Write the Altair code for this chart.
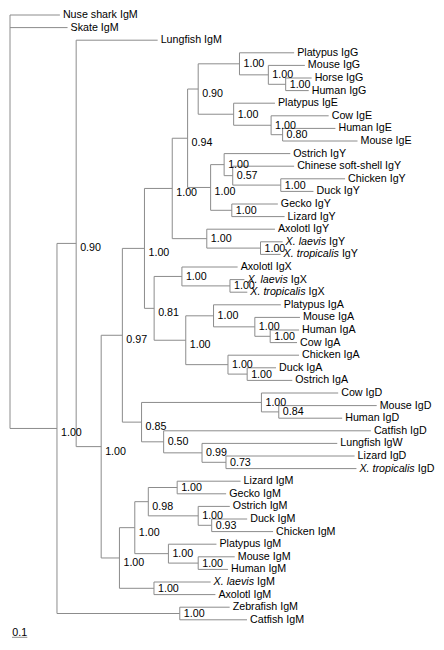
import altair as alt
import pandas as pd

# ---------------- data (read from the reference tree) ----------------
# nodes in pre-order; branch lengths in substitutions/site; support = posterior
node_names = [
    "root", "Nuse shark IgM", "Skate IgM", "n_B", "n_A", "Lungfish IgM", "n_C", "n_D", "n_E", "n_F",
    "n_094", "n_090", "n_G1", "Platypus IgG", "n_G2", "Mouse IgG", "n_G3", "Horse IgG", "Human IgG",
    "n_E1", "Platypus IgE", "n_E2", "Cow IgE", "n_E3", "Human IgE", "Mouse IgE",
    "n_Y", "n_Y1", "Ostrich IgY", "n_Y2", "Chinese soft-shell IgY", "n_Y3", "Chicken IgY", "Duck IgY",
    "n_YL", "Gecko IgY", "Lizard IgY",
    "n_AY", "Axolotl IgY", "n_XY", "X. laevis IgY", "X. tropicalis IgY",
    "n_G", "n_XX", "Axolotl IgX", "n_XXn", "X. laevis IgX", "X. tropicalis IgX",
    "n_IA", "n_MA", "Platypus IgA", "n_MHC", "Mouse IgA", "n_HC", "Human IgA", "Cow IgA",
    "n_BA", "Chicken IgA", "n_DO", "Duck IgA", "Ostrich IgA",
    "n_Dg", "n_MD", "Cow IgD", "n_MHD", "Mouse IgD", "Human IgD",
    "n_R50", "Catfish IgD", "n_R99", "Lungfish IgW", "n_R73", "Lizard IgD", "X. tropicalis IgD",
    "n_M", "n_AM", "n_SM", "n_LG", "Lizard IgM", "Gecko IgM", "n_BM", "Ostrich IgM", "n_DC",
    "Duck IgM", "Chicken IgM", "n_MM", "Platypus IgM", "n_MH", "Mouse IgM", "Human IgM",
    "n_AmM", "X. laevis IgM", "Axolotl IgM",
    "n_Fish", "Zebrafish IgM", "Catfish IgM",
]
node_parents = [
    None, "root", "root", "root", "n_B", "n_A", "n_A", "n_C", "n_D", "n_E",
    "n_F", "n_094", "n_090", "n_G1", "n_G1", "n_G2", "n_G2", "n_G3", "n_G3",
    "n_090", "n_E1", "n_E1", "n_E2", "n_E2", "n_E3", "n_E3",
    "n_094", "n_Y", "n_Y1", "n_Y1", "n_Y2", "n_Y2", "n_Y3", "n_Y3",
    "n_Y", "n_YL", "n_YL",
    "n_F", "n_AY", "n_AY", "n_XY", "n_XY",
    "n_E", "n_G", "n_XX", "n_XX", "n_XXn", "n_XXn",
    "n_G", "n_IA", "n_MA", "n_MA", "n_MHC", "n_MHC", "n_HC", "n_HC",
    "n_IA", "n_BA", "n_BA", "n_DO", "n_DO",
    "n_D", "n_Dg", "n_MD", "n_MD", "n_MHD", "n_MHD",
    "n_Dg", "n_R50", "n_R50", "n_R99", "n_R99", "n_R73", "n_R73",
    "n_C", "n_M", "n_AM", "n_SM", "n_LG", "n_LG", "n_SM", "n_BM", "n_BM",
    "n_DC", "n_DC", "n_AM", "n_MM", "n_MM", "n_MH", "n_MH",
    "n_M", "n_AmM", "n_AmM",
    "n_B", "n_Fish", "n_Fish",
]
branch_lengths = [
    0.0, 0.325, 0.375, 0.306, 0.125, 0.531, 0.163, 0.138, 0.144, 0.181,
    0.100, 0.069, 0.269, 0.356, 0.188, 0.238, 0.113, 0.169, 0.150,
    0.231, 0.269, 0.244, 0.375, 0.075, 0.344, 0.488,
    0.150, 0.088, 0.431, 0.056, 0.400, 0.313, 0.419, 0.213,
    0.138, 0.300, 0.344,
    0.225, 0.444, 0.350, 0.144, 0.131,
    0.063, 0.181, 0.363, 0.313, 0.094, 0.113,
    0.206, 0.181, 0.438, 0.269, 0.294, 0.100, 0.188, 0.175,
    0.275, 0.463, 0.125, 0.188, 0.294,
    0.125, 0.781, 0.500, 0.113, 0.638, 0.413,
    0.144, 1.350, 0.250, 0.881, 0.156, 0.838, 0.850,
    0.119, 0.100, 0.088, 0.188, 0.413, 0.319, 0.325, 0.206, 0.088,
    0.231, 0.400, 0.219, 0.313, 0.194, 0.238, 0.194,
    0.225, 0.369, 0.400,
    0.800, 0.325, 0.438,
]
support_values = [
    None, None, None, 1.00, 0.90, None, 1.00, 0.97, 1.00, 1.00,
    0.94, 0.90, 1.00, None, 1.00, None, 1.00, None, None,
    1.00, None, 1.00, None, 0.80, None, None,
    1.00, 1.00, None, 0.57, None, 1.00, None, None,
    1.00, None, None,
    1.00, None, 1.00, None, None,
    0.81, 1.00, None, 1.00, None, None,
    1.00, 1.00, None, 1.00, None, 1.00, None, None,
    1.00, None, 1.00, None, None,
    0.85, 1.00, None, 0.84, None, None,
    0.50, None, 0.99, None, 0.73, None, None,
    1.00, 1.00, 0.98, 1.00, None, None, 1.00, None, 0.93,
    None, None, 1.00, None, 1.00, None, None,
    1.00, None, None,
    1.00, None, None,
]
italic_prefixes = ["X. laevis", "X. tropicalis"]
scale_bar_length = 0.1
scale_bar_label = "0.1"

# ---------------- layout constants ----------------
W, H = 428, 634
PXU = 153.5          # pixels per substitution unit
SP = 12.6            # pixels between leaves
TOP = 7.0            # chart-y of the first leaf
LEFT = 2.0           # chart-x of the root
FONT = "Liberation Sans"
FS = 10.7
LINE = "#8c8c8c"
TEXT = "#000000"
EM = {"X": .667, ".": .278, " ": .278, "l": .222, "a": .556, "e": .556, "v": .5,
      "i": .222, "s": .5, "t": .278, "r": .333, "o": .556, "p": .556, "c": .5}

# ---------------- tree layout ----------------
children = {n: [] for n in node_names}
for n, p in zip(node_names, node_parents):
    if p is not None:
        children[p].append(n)
length_of = dict(zip(node_names, branch_lengths))
support_of = dict(zip(node_names, support_values))
parent_of = dict(zip(node_names, node_parents))

xpos = {}
for n, p in zip(node_names, node_parents):
    xpos[n] = 0.0 if p is None else xpos[p] + length_of[n]
leaves = [n for n in node_names if not children[n]]
ypos = {n: float(i) for i, n in enumerate(leaves)}
for n in reversed(node_names):
    if children[n]:
        cy = [ypos[c] for c in children[n]]
        ypos[n] = (cy[0] + cy[-1]) / 2.0

horiz = pd.DataFrame([
    {"x0": xpos[parent_of[n]], "x1": xpos[n], "y": ypos[n]}
    for n in node_names if parent_of[n] is not None
])
vert = pd.DataFrame([
    {"x": xpos[n], "y0": min(ypos[c] for c in children[n]), "y1": max(ypos[c] for c in children[n])}
    for n in node_names if children[n]
])

rows = []
for n in leaves:
    ital, rest = "", n
    for pre in italic_prefixes:
        if n.startswith(pre + " "):
            ital, rest = pre, n[len(pre) + 1:]
    off = sum(EM.get(ch, .55) for ch in (ital + " ")) * FS if ital else 0.0
    rows.append({"x": xpos[n], "y": ypos[n], "ital": ital, "rest": rest,
                 "xs": xpos[n] + off / PXU})
leaf_df = pd.DataFrame(rows)
ital_df = leaf_df[leaf_df["ital"] != ""]

sup_rows = []
for n in node_names:
    s = support_of[n]
    if s is None or not children[n]:
        continue
    cy = [ypos[c] for c in children[n]]
    span = (max(cy) - min(cy)) * SP
    dy = 5.0 if span > 28 else 0.5
    sup_rows.append({"x": xpos[n], "y": ypos[n] + dy / SP, "t": f"{s:.2f}"})
sup_df = pd.DataFrame(sup_rows)

last = len(leaves) - 1
sb_x0 = 2.0 / PXU
sb_y = last + 17.5 / SP
bar_df = pd.DataFrame([{"x0": sb_x0, "x1": sb_x0 + scale_bar_length, "y": sb_y,
                        "xm": sb_x0 + scale_bar_length / 2, "yt": sb_y - 4.5 / SP,
                        "t": scale_bar_label}])

xs = alt.Scale(domain=[-LEFT / PXU, (W - LEFT) / PXU], nice=False, zero=False)
ys = alt.Scale(domain=[-TOP / SP, (H - TOP) / SP], nice=False, zero=False, reverse=True)

h_layer = alt.Chart(horiz).mark_rule(color=LINE, strokeWidth=1).encode(
    x=alt.X("x0:Q", scale=xs, axis=None), x2="x1:Q", y=alt.Y("y:Q", scale=ys, axis=None))
v_layer = alt.Chart(vert).mark_rule(color=LINE, strokeWidth=1).encode(
    x=alt.X("x:Q", scale=xs, axis=None), y=alt.Y("y0:Q", scale=ys, axis=None), y2="y1:Q")
name_layer = alt.Chart(leaf_df).mark_text(
    align="left", baseline="middle", dx=3, font=FONT, fontSize=FS, color=TEXT).encode(
    x=alt.X("xs:Q", scale=xs, axis=None), y=alt.Y("y:Q", scale=ys, axis=None), text="rest:N")
ital_layer = alt.Chart(ital_df).mark_text(
    align="left", baseline="middle", dx=3, font=FONT, fontSize=FS, fontStyle="italic",
    color=TEXT).encode(
    x=alt.X("x:Q", scale=xs, axis=None), y=alt.Y("y:Q", scale=ys, axis=None), text="ital:N")
sup_layer = alt.Chart(sup_df).mark_text(
    align="left", baseline="middle", dx=4, font=FONT, fontSize=FS, color=TEXT).encode(
    x=alt.X("x:Q", scale=xs, axis=None), y=alt.Y("y:Q", scale=ys, axis=None), text="t:N")
bar_layer = alt.Chart(bar_df).mark_rule(color=LINE, strokeWidth=1).encode(
    x=alt.X("x0:Q", scale=xs, axis=None), x2="x1:Q", y=alt.Y("y:Q", scale=ys, axis=None))
bar_text = alt.Chart(bar_df).mark_text(
    align="center", baseline="middle", font=FONT, fontSize=FS, color=TEXT).encode(
    x=alt.X("xm:Q", scale=xs, axis=None), y=alt.Y("yt:Q", scale=ys, axis=None), text="t:N")

chart = alt.layer(h_layer, v_layer, name_layer, ital_layer, sup_layer, bar_layer, bar_text).properties(
    width=W, height=H, padding=0, autosize="none", background="white"
).configure_view(strokeWidth=0)

chart.save("out.html", embed_options={"renderer": "svg", "actions": False})
